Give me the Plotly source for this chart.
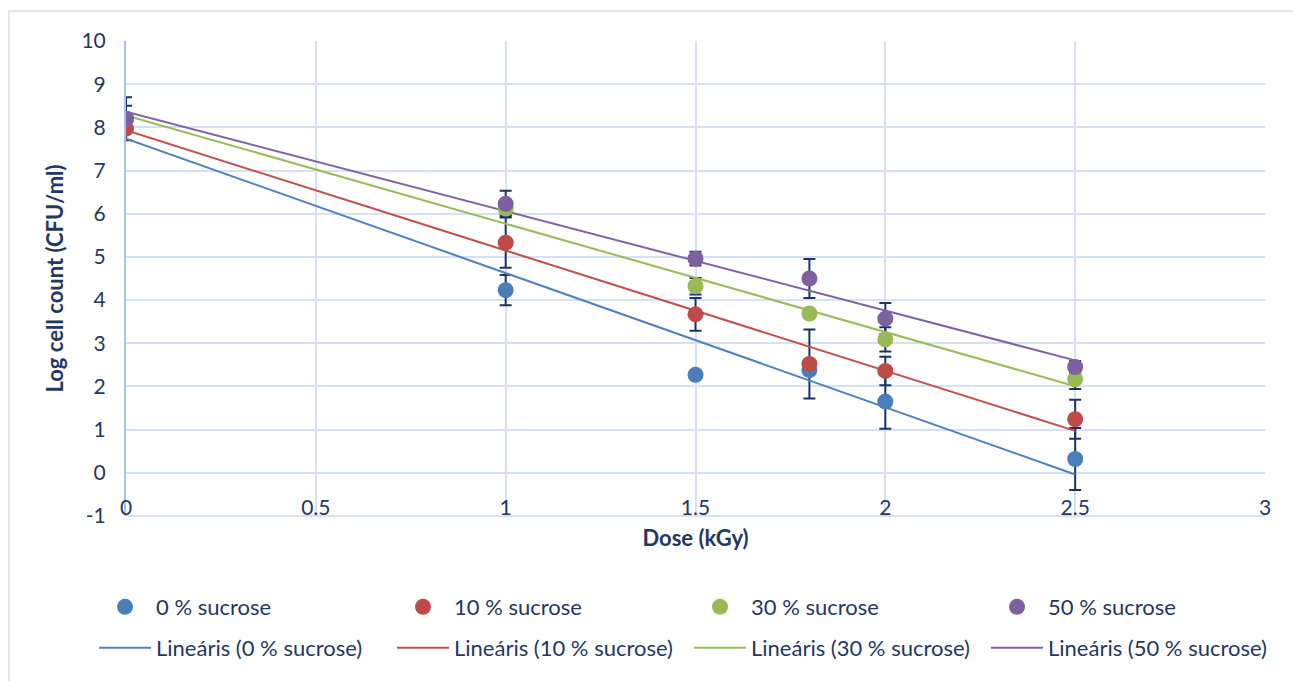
import numpy as np
import plotly.graph_objects as go

# ---- data ----
dose = [0, 1, 1.5, 1.8, 2, 2.5]
series_names = ["0 % sucrose", "10 % sucrose", "30 % sucrose", "50 % sucrose"]
log_0 = [8.2, 4.23, 2.27, 2.38, 1.65, 0.32]
log_10 = [7.97, 5.33, 3.67, 2.52, 2.36, 1.24]
log_30 = [8.2, 6.12, 4.32, 3.69, 3.09, 2.17]
log_50 = [8.2, 6.23, 4.96, 4.5, 3.57, 2.45]
err_0 = [0.5, 0.35, 0.05, 0.1, 0.63, 0.72]
err_10 = [0.1, 0.58, 0.38, 0.8, 0.33, 0.45]
err_30 = [0.1, 0.15, 0.19, 0.05, 0.28, 0.23]
err_50 = [0.3, 0.3, 0.16, 0.45, 0.36, 0.14]
x_ticks = [0, 0.5, 1, 1.5, 2, 2.5, 3]
x_tick_text = ["0", "0.5", "1", "1.5", "2", "2.5", "3"]
y_ticks = list(range(-1, 11))
y_tick_text = ["-1"] + [str(v) for v in range(0, 11)]

values = [log_0, log_10, log_30, log_50]
errors = [err_0, err_10, err_30, err_50]
marker_colors = ["#4a7ebb", "#be4b48", "#98b954", "#7d60a0"]
line_colors = ["#4f81bd", "#c0504d", "#9bbb59", "#8064a2"]

FONT = "Lato"
TXT = "#1f3864"
GRID = "#d6e2f4"
W, H = 1293, 681
PL, PR, PT, PB = 126, 28, 41, 165
PW, PH = W - PL - PR, H - PT - PB

# legend column text starts (px) and row centres (px)
col_text_px = [156, 454, 751, 1048]
row_y_px = [607, 648]
ITEMW = 52
TEXTGAP = ITEMW + 10

fig = go.Figure()

# error bars (below markers)
for v, e in zip(values, errors):
    fig.add_trace(go.Scatter(
        x=dose, y=v, mode="markers",
        marker=dict(size=1, color="rgba(0,0,0,0)"),
        error_y=dict(type="data", array=e, visible=True, color="#1c3460",
                     thickness=2, width=6),
        showlegend=False, hoverinfo="skip"))

legends = {}


def legend_def(col, row):
    return dict(
        orientation="h", xref="container", yref="container",
        xanchor="left", yanchor="middle",
        x=(col_text_px[col] - TEXTGAP) / W, y=1 - row_y_px[row] / H,
        font=dict(family=FONT, size=22, color=TXT),
        itemwidth=ITEMW, bgcolor="rgba(0,0,0,0)", borderwidth=0,
    )


# linear trendlines (least squares like Excel)
xs = np.array([min(dose), max(dose)])
for i, (name, v, c) in enumerate(zip(series_names, values, line_colors)):
    slope, intercept = np.polyfit(dose, v, 1)
    key = f"legend{5 + i}"
    legends[key] = legend_def(i, 1)
    fig.add_trace(go.Scatter(
        x=xs, y=slope * xs + intercept, mode="lines",
        line=dict(color=c, width=2),
        name=f"Lineáris ({name})", legend=key))

# markers
for i, (name, v, c) in enumerate(zip(series_names, values, marker_colors)):
    key = "legend" if i == 0 else f"legend{1 + i}"
    legends[key] = legend_def(i, 0)
    fig.add_trace(go.Scatter(
        x=dose, y=v, mode="markers",
        marker=dict(size=16, color=c),
        name=name, legend=key))

fig.update_layout(
    width=W, height=H,
    margin=dict(l=PL, r=PR, t=PT, b=PB, autoexpand=False),
    paper_bgcolor="white", plot_bgcolor="white",
    font=dict(family=FONT, color=TXT),
    xaxis=dict(
        range=[0, 3], tickvals=x_ticks, ticktext=x_tick_text,
        showgrid=True, gridcolor=GRID, gridwidth=2,
        zeroline=False, showline=False, ticks="",
        anchor="free", position=23 / PH, automargin=False,
        tickfont=dict(family=FONT, size=21, color=TXT),
        title=dict(text="<b>Dose (kGy)</b>", standoff=12,
                   font=dict(family=FONT, size=22, color=TXT)),
    ),
    yaxis=dict(
        range=[-1, 10], tickvals=y_ticks, ticktext=y_tick_text,
        showgrid=True, gridcolor=GRID, gridwidth=2,
        zeroline=False, showline=True, linecolor="#a9c3ea", linewidth=2,
        ticks="", ticklabelstandoff=14, automargin=False,
        tickfont=dict(family=FONT, size=21, color=TXT),
        title=dict(text="<b>Log cell count (CFU/ml)</b>", standoff=12,
                   font=dict(family=FONT, size=22, color=TXT)),
    ),
    shapes=[
        dict(type="rect", xref="paper", yref="paper",
             x0=(9 - PL) / PW, x1=(W + 10 - PL) / PW,
             y0=(PB - H - 10) / PH, y1=(H - 11 - PB) / PH,
             line=dict(color="#d5dfee", width=1.5), layer="below"),
        dict(type="line", xref="paper", yref="paper",
             x0=0, x1=1, y0=0, y1=0,
             line=dict(color=GRID, width=2), layer="below"),
    ],
    **legends,
)

fig.write_html("out.html")
